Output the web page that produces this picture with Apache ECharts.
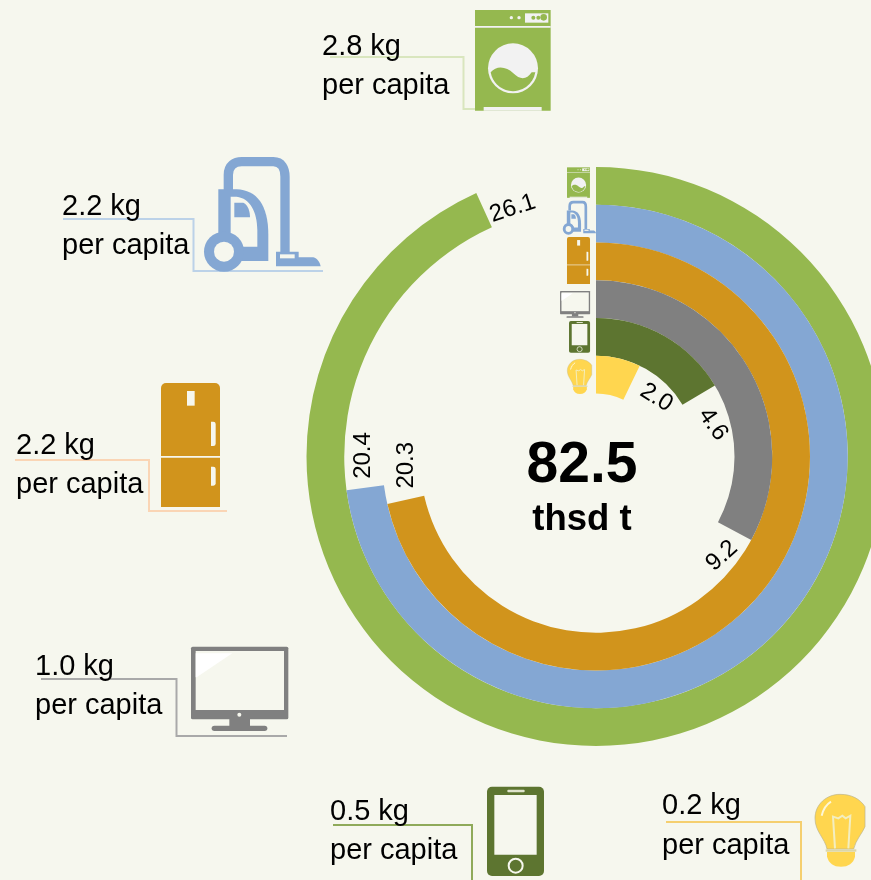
<!DOCTYPE html>
<html>
<head>
<meta charset="utf-8">
<style>
  html, body { margin: 0; padding: 0; background: #f6f7ee; }
  #chart { width: 871px; height: 880px; }
</style>
<script src="https://cdn.jsdelivr.net/npm/echarts@6/dist/echarts.min.js"></script>
</head>
<body>
<div id="chart"></div>
<script>
const categories = ['Washing machine', 'Vacuum cleaner', 'Fridge', 'Monitor', 'Phone', 'Lamp'];
// length of each arc (the fridge arc stops short of its printed 20.3)
const arcValues = [26.1, 20.4, 20.0, 9.2, 4.6, 2.0];
const arcLabels = ['26.1', '20.4', '20.3', '9.2', '4.6', '2.0'];
const perCapita = ['2.8 kg', '2.2 kg', '2.2 kg', '1.0 kg', '0.5 kg', '0.2 kg'];
const total = '82.5';
const totalUnit = 'thsd t';
const perCapitaUnit = 'per capita';

const BG = '#f6f7ee';
const FONT = '"Liberation Sans", Arial, sans-serif';
const colors = ['#95b84f', '#84a7d3', '#d1941c', '#808080', '#5d7530', '#ffd64f'];
const lineColors = ['#d9e6be', '#bcd2e8', '#fad5b5', '#a9a9a9', '#8faa5a', '#f5cf6f'];

// where the printed value sits along each arc (angle axis units), its tilt and a px nudge
// (the nudge is applied in the label's own rotated frame)
const labelAngles = [26.55, 21, 20.8, 9.96, 5.75, 3.48];
const labelRotate = [18, 90, 90, 42, -55, -32];
const labelOffset = [[0.5, 9], [1, 0], [0, 5], [0, 3], [2, -1], [2, -2]];

// leader lines and per capita text
const leaders = [
  [[330, 57], [463.5, 57], [463.5, 109], [484, 109]],
  [[63, 219], [193.5, 219], [193.5, 271], [323, 271]],
  [[15, 460], [149, 460], [149, 511], [227, 511]],
  [[41, 679], [176.5, 679], [176.5, 736], [287, 736]],
  [[333, 825], [472, 825], [472, 880]],
  [[666, 822], [801, 822], [801, 880]],
];
const textPos = [
  [322, 54, 93],
  [62, 214, 253],
  [16, 453, 492],
  [35, 674, 713],
  [330, 819, 858],
  [662, 813, 853],
];

function rect(x, y, w, h, fill, r) {
  return { type: 'rect', silent: true, shape: { x, y, width: w, height: h, r: r || 0 }, style: { fill } };
}
function dot(cx, cy, r, fill) {
  return { type: 'circle', silent: true, shape: { cx, cy, r }, style: { fill } };
}
// the graphic component has no plain 'path' type, so svg strings get registered as shapes
let shapeCount = 0;
function path(d, style) {
  const type = 'iconPath' + (shapeCount++);
  echarts.graphic.registerShape(type, echarts.graphic.extendPath(d));
  return { type, silent: true, style };
}

// icons, drawn in the pixel units of a 3x crop
function washer() {
  const c = colors[0], w = '#f2f2f2';
  return [
    rect(525, 30, 227, 302, c),
    rect(525, 78, 227, 5, w),
    dot(634, 53, 5, w), dot(657, 53, 5, w),
    rect(675, 40, 70, 28, w),
    dot(700, 53, 6, c), dot(715, 53, 6, c), dot(731, 52, 10, c),
    dot(639, 205, 75, w),
    path('M572 217 C590 195 620 200 640 220 C660 240 680 240 695 217 L706 217 A68 68 0 0 1 572 217 Z', { fill: c }),
    rect(551, 321, 174, 11, w),
  ];
}
function vacuum() {
  const c = colors[1];
  return [
    path('M85 105 L85 60 C85 30 105 20 125 20 L220 20 C245 20 255 40 255 65 L255 295', { fill: 'none', stroke: c, lineWidth: 28 }),
    path('M55 103 L110 103 C170 105 205 150 205 240 L205 318 L70 318 L55 240 Z', { fill: c }),
    path('M92 125 L110 125 C150 130 172 170 172 225 L172 275 L130 275 C120 255 105 240 92 238 Z', { fill: BG }),
    path('M103 143 L130 143 C145 150 150 170 150 187 L103 187 Z', { fill: c }),
    dot(72, 290, 60, c), dot(72, 290, 30, BG),
    path('M228 290 L296 290 L296 307 L340 307 C352 310 360 322 362 334 L228 334 Z', { fill: c }),
    rect(240, 298, 44, 12, BG),
  ];
}
function fridge() {
  const c = colors[2];
  return [
    rect(483, 24, 177, 372, c, [15, 15, 0, 0]),
    rect(483, 243, 177, 5, BG),
    rect(561, 48, 23, 44, BG),
    rect(633, 140, 14, 73, BG, [0, 7, 7, 0]),
    rect(633, 275, 14, 57, BG, [0, 7, 7, 0]),
  ];
}
function monitor() {
  const c = colors[3];
  return [
    rect(513, 20, 292, 218, c, 5),
    rect(527, 33, 265, 177, BG),
    path('M527 40 L637 40 L530 112 L527 112 Z', { fill: '#ffffff' }),
    dot(658, 224, 6, BG),
    rect(628, 236, 62, 24, c),
    rect(575, 257, 167, 16, c, 8),
  ];
}
function phone() {
  const c = colors[4];
  return [
    rect(501, 20, 171, 268, c, 15),
    rect(523, 45, 127, 179, BG),
    rect(562, 29, 52, 8, '#dfe3cc', 3),
    { type: 'circle', silent: true, shape: { cx: 587, cy: 257, r: 21 }, style: { fill: c, stroke: BG, lineWidth: 6 } },
  ];
}
function lamp() {
  const c = colors[5], w = '#f3eec0';
  return [
    path('M105 28 C65 28 30 58 30 100 C30 140 60 160 66 192 L146 192 C152 165 172 145 180 125 L180 65 C165 42 140 28 105 28 Z',
      { fill: c, stroke: '#b9b48f', lineWidth: 2 }),
    path('M66 200 L150 200 L150 215 C145 235 130 245 108 245 C85 245 72 235 66 215 Z', { fill: c }),
    rect(62, 193, 92, 7, '#dcd6a8'),
    path('M90 190 L84 95 L100 100 L112 92 L122 100 L136 92 L130 190', { fill: 'none', stroke: w, lineWidth: 6 }),
    path('M50 92 C55 72 65 58 78 50', { fill: 'none', stroke: '#fdf7d8', lineWidth: 6 }),
  ];
}

const icons = [washer, vacuum, fridge, monitor, phone, lamp];
// big icon: offset of the crop at scale 1/3; small icon: fitted next to the start of the rings
const bigAt = [[300, 0], [200, 155], [0, 375], [20, 640], [320, 780], [805, 785]];
const smallAt = [
  [514, 164.3, 0.101, 0.101],
  [561.6, 200.2, 0.095, 0.099],
  [504.2, 234, 0.13, 0.126],
  [507.2, 288.9, 0.103, 0.106],
  [507.4, 318.6, 0.123, 0.119],
  [562.4, 354.8, 0.163, 0.16],
];

const graphic = [];
leaders.forEach((points, i) => {
  graphic.push({ type: 'polyline', silent: true, shape: { points }, style: { fill: null, stroke: lineColors[i], lineWidth: 2 } });
});
icons.forEach((icon, i) => {
  graphic.push({ type: 'group', x: bigAt[i][0], y: bigAt[i][1], scaleX: 1 / 3, scaleY: 1 / 3, children: icon() });
  graphic.push({ type: 'group', x: smallAt[i][0], y: smallAt[i][1], scaleX: smallAt[i][2], scaleY: smallAt[i][3], children: icon() });
});
textPos.forEach((p, i) => {
  const base = { fill: '#000', font: '29px ' + FONT, verticalAlign: 'middle' };
  graphic.push({ type: 'text', silent: true, x: p[0], y: p[1] - 7.5, style: { ...base, text: perCapita[i] } });
  graphic.push({ type: 'text', silent: true, x: p[0], y: p[2] - 7.5, style: { ...base, text: perCapitaUnit } });
});
graphic.push({ type: 'text', silent: true, x: 582, y: 466, style: { text: total, fill: '#000', font: 'bold 57px ' + FONT, align: 'center', verticalAlign: 'middle' } });
graphic.push({ type: 'text', silent: true, x: 582, y: 520, style: { text: totalUnit, fill: '#000', font: 'bold 36.5px ' + FONT, align: 'center', verticalAlign: 'middle' } });

const chart = echarts.init(document.getElementById('chart'), null, { renderer: 'canvas' });

chart.setOption({
  animation: false,
  backgroundColor: BG,
  polar: { center: [596, 456.5], radius: [63, 289.5] },
  angleAxis: { type: 'value', min: 0, max: 28, startAngle: 90, clockwise: true, show: false },
  radiusAxis: { type: 'category', inverse: true, data: categories, show: false },
  tooltip: { show: false },
  graphic,
  series: [
    {
      type: 'bar',
      coordinateSystem: 'polar',
      barCategoryGap: '0%',
      silent: true,
      data: arcValues.map((value, i) => ({ value, itemStyle: { color: colors[i] } })),
    },
    {
      type: 'scatter',
      coordinateSystem: 'polar',
      symbolSize: 1,
      silent: true,
      // scatter defaults to 0.8 opacity, which would grey the labels
      itemStyle: { color: 'transparent', opacity: 1 },
      label: {
        show: true,
        position: 'inside',
        fontFamily: FONT,
        fontSize: 24,
        formatter: (p) => arcLabels[p.dataIndex],
      },
      data: categories.map((name, i) => ({
        value: [name, labelAngles[i]],
        label: { rotate: labelRotate[i], offset: labelOffset[i], color: '#000000' },
      })),
    },
  ],
});
</script>
</body>
</html>
